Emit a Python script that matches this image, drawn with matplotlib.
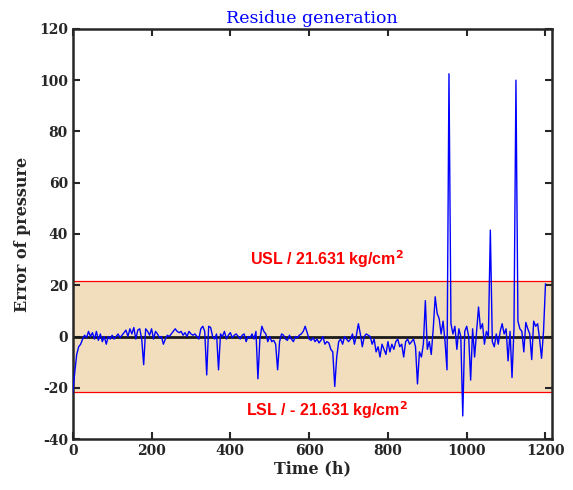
import numpy as np
import matplotlib
matplotlib.use("Agg")
import matplotlib.pyplot as plt

plt.rcParams["axes.unicode_minus"] = False

# 数据：每 5 h 一个残差值
time_h = np.arange(0, 1201, 5)
residue = [
    -22, -14, -7, -4, -3, -1, 0.5, -0.5, 2, 0, 1.5, -1, 2, -1.5, 1, -2, 0, -3, 0, -1,
    0.5, -1, 0, 1, -0.5, 0.5, 1.5, 2.5, 0, 3, 1, 3.5, -1, 2.5, 3, -1, -11, 3, 2, 0.5,
    3, -1, 2, 1, -0.5, 0, -3, -1, 0.5, 0, 1, 2, 3, 2, 1.5, 2, 0.5, 1.5, 0, 2,
    1, 0.5, 1, 0, -1, 3, 4, 2, -15, 4, 3.5, 0, -1, 1, -13, 1, 0, 2, -1, 0.5,
    1.5, -0.5, 0.5, 1, 0, -1, 0.5, 1, -2, 0, -0.5, 1, -1, 2, -16.5, -1, 4, 2, 1, -2,
    0, -2, -1.5, -3, -13, -2, 1, 0.5, -1, -1.5, 0.5, -1, -2, 0, -0.5, 0.5, 1, 2, 4, 1.5,
    -1, -1.5, -0.5, -2, -1, -2.5, -1.5, 0, -3, -2, -2.5, -5, -6, -19.5, -8, -2, -1, -3, 0, -1,
    -2, -1, 1, -3, 0.5, 5, 1, -4, 0, 1, 0.5, 0, -3, -1, -6, -4, -8, -3, -5, -7,
    -2, -6, -3, -5, -2, -1, -4, -3, -8, -2, -1, -3, -2, -1, -4, -18.5, -6, -8, -3, 14,
    -5, -2, -7, 3, 15.5, 9, 7, 1, 6, -2, -13, 102.5, 5, 1, 4, -5, 3, 0, -31, 2,
    4, 0, -17, 3, -8, 2, 11.5, 3, 5, -3, 2, 0, 41.5, -2, -4, 1, -3, 2, 5, 1,
    3, -9.5, 2, -16, 3, 100, 6, 3, 2, -6, 5.5, 3, 1, -9, 6, 4, 5, -1, -8.5, 2,
    20.5,
]
limit = 21.631

fig = plt.figure(figsize=(5.73, 4.9), dpi=100)
ax = fig.add_axes([0.127, 0.104, 0.836, 0.837])

# 控制限区域
ax.axhspan(-limit, limit, color="#F2DEBD", zorder=0, lw=0)
ax.axhline(limit, color="red", lw=0.9, zorder=1)
ax.axhline(-limit, color="red", lw=0.9, zorder=1)
ax.axhline(0, color="#1a1a1a", lw=2, zorder=2)

ax.plot(time_h, residue, color="blue", lw=1, zorder=3)

ax.text(644, 30.2, "USL / 21.631 kg/cm$^\\mathbf{2}$", color="red", fontsize=11.5,
        fontweight="bold", family="Liberation Sans", ha="center", va="center")
ax.text(644, -28.7, "LSL / - 21.631 kg/cm$^\\mathbf{2}$", color="red", fontsize=11.5,
        fontweight="bold", family="Liberation Sans", ha="center", va="center")

ax.set_xlim(0, 1216)
ax.set_ylim(-40, 120)
ax.set_xticks(np.arange(0, 1201, 200))
ax.set_yticks(np.arange(-40, 121, 20))
ax.tick_params(direction="in", top=True, right=True, length=5, width=1.5,
               labelsize=10, colors="#262626")
for lab in ax.get_xticklabels() + ax.get_yticklabels():
    lab.set_fontweight("bold")
    lab.set_family("DejaVu Serif")
for s in ax.spines.values():
    s.set_linewidth(1.8)
    s.set_color("#262626")

ax.set_xlabel("Time (h)", fontsize=11.5, fontweight="bold", family="DejaVu Serif",
              color="#262626", labelpad=2)
ax.set_ylabel("Error of pressure", fontsize=11.5, fontweight="bold", family="DejaVu Serif",
              color="#262626", labelpad=6)
ax.set_title("Residue generation", fontsize=12.5, color="blue", family="DejaVu Serif", pad=4)

fig.savefig("out.png", dpi=100)
